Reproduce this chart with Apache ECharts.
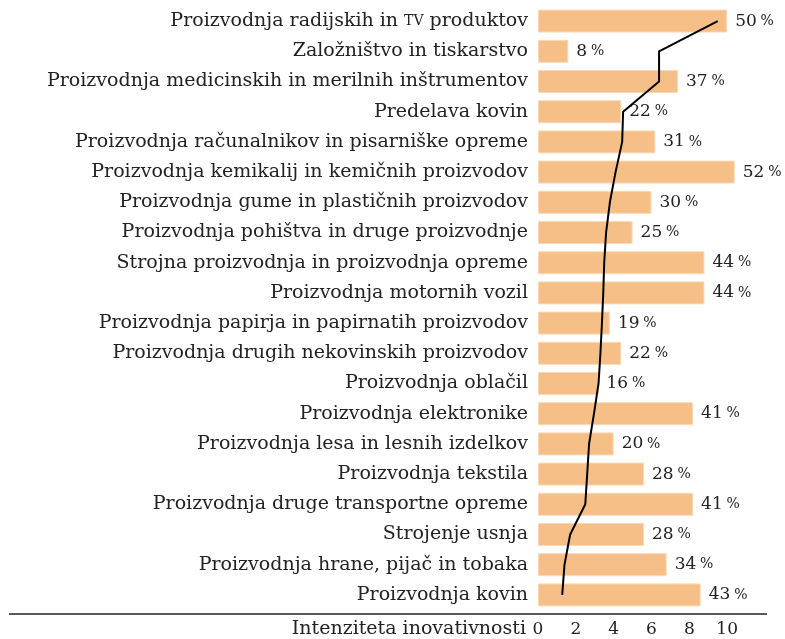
<!DOCTYPE html>
<html>
<head>
<meta charset="utf-8">
<script src="https://cdn.jsdelivr.net/npm/echarts@6/dist/echarts.min.js"></script>
<style>
  html, body { margin: 0; padding: 0; background: #fff; }
  #chart { width: 785px; height: 639px; }
</style>
</head>
<body>
<div id="chart"></div>
<script>
// panoge, od zgoraj navzdol
var categories = [
    'Proizvodnja radijskih in TV produktov',
    'Založništvo in tiskarstvo',
    'Proizvodnja medicinskih in merilnih inštrumentov',
    'Predelava kovin',
    'Proizvodnja računalnikov in pisarniške opreme',
    'Proizvodnja kemikalij in kemičnih proizvodov',
    'Proizvodnja gume in plastičnih proizvodov',
    'Proizvodnja pohištva in druge proizvodnje',
    'Strojna proizvodnja in proizvodnja opreme',
    'Proizvodnja motornih vozil',
    'Proizvodnja papirja in papirnatih proizvodov',
    'Proizvodnja drugih nekovinskih proizvodov',
    'Proizvodnja oblačil',
    'Proizvodnja elektronike',
    'Proizvodnja lesa in lesnih izdelkov',
    'Proizvodnja tekstila',
    'Proizvodnja druge transportne opreme',
    'Strojenje usnja',
    'Proizvodnja hrane, pijač in tobaka',
    'Proizvodnja kovin'
];
// delež (%)
var shares = [50, 8, 37, 22, 31, 52, 30, 25, 44, 44, 19, 22, 16, 41, 20, 28, 41, 28, 34, 43];
// intenziteta inovativnosti
var intensity = [9.5, 6.4, 6.4, 4.5, 4.45, 4.1, 3.8, 3.6, 3.5, 3.45, 3.38, 3.3, 3.2, 2.96, 2.7, 2.6, 2.5, 1.7, 1.4, 1.28];
var intensityTicks = [0, 2, 4, 6, 8, 10];

var font = 'DejaVu Serif';
var textColor = '#222';

var chart = echarts.init(document.getElementById('chart'));

var linePoints = intensity.map(function (v, i) { return [v, categories[i]]; });

var option = {
    animation: false,
    textStyle: { fontFamily: font },
    grid: { left: 538, right: 20, top: 6, bottom: 28, containLabel: false },
    xAxis: [{
        type: 'value',
        min: 0,
        max: 60,
        show: false
    }, {
        type: 'value',
        min: 0,
        max: 12,
        interval: 2,
        position: 'bottom',
        axisLine: { show: false },
        axisTick: { show: false },
        splitLine: { show: false },
        axisLabel: {
            margin: 11,
            color: textColor,
            fontSize: 17,
            fontFamily: font,
            formatter: function (v) {
                return intensityTicks.indexOf(v) >= 0 ? String(v) : '';
            }
        },
        name: 'Intenziteta inovativnosti',
        nameLocation: 'start',
        nameGap: 12,
        nameTextStyle: {
            color: textColor,
            fontSize: 19,
            fontFamily: font,
            verticalAlign: 'top',
            padding: [10, 0, 0, 0]
        }
    }],
    yAxis: {
        type: 'category',
        data: categories,
        inverse: true,
        axisLine: { show: false },
        axisTick: { show: false },
        axisLabel: {
            margin: 10,
            color: textColor,
            fontSize: 19,
            fontFamily: font,
            formatter: function (s) {
                if (s.indexOf('TV') >= 0) {
                    var parts = s.split('TV');
                    return parts[0] + '{sc|TV}' + parts[1];
                }
                return s;
            },
            rich: {
                sc: { fontSize: 14, color: textColor, fontFamily: font }
            }
        }
    },
    series: [{
        type: 'bar',
        xAxisIndex: 0,
        data: shares,
        barWidth: 23,
        itemStyle: { color: '#f6bf88', borderColor: '#fbd9b5', borderWidth: 1 },
        label: {
            show: true,
            position: 'right',
            distance: 8,
            formatter: '{n|{c}} {p|%}',
            rich: {
                n: { fontSize: 17, color: textColor, fontFamily: font },
                p: { fontSize: 14, color: textColor, fontFamily: font }
            }
        }
    }, {
        type: 'line',
        xAxisIndex: 1,
        data: linePoints,
        symbol: 'none',
        lineStyle: { color: '#000', width: 2 },
        z: 5
    }],
    graphic: [{
        type: 'line',
        shape: { x1: 9, y1: 614, x2: 767, y2: 614 },
        style: { stroke: '#222', lineWidth: 1.5 }
    }]
};

chart.setOption(option);
</script>
</body>
</html>
